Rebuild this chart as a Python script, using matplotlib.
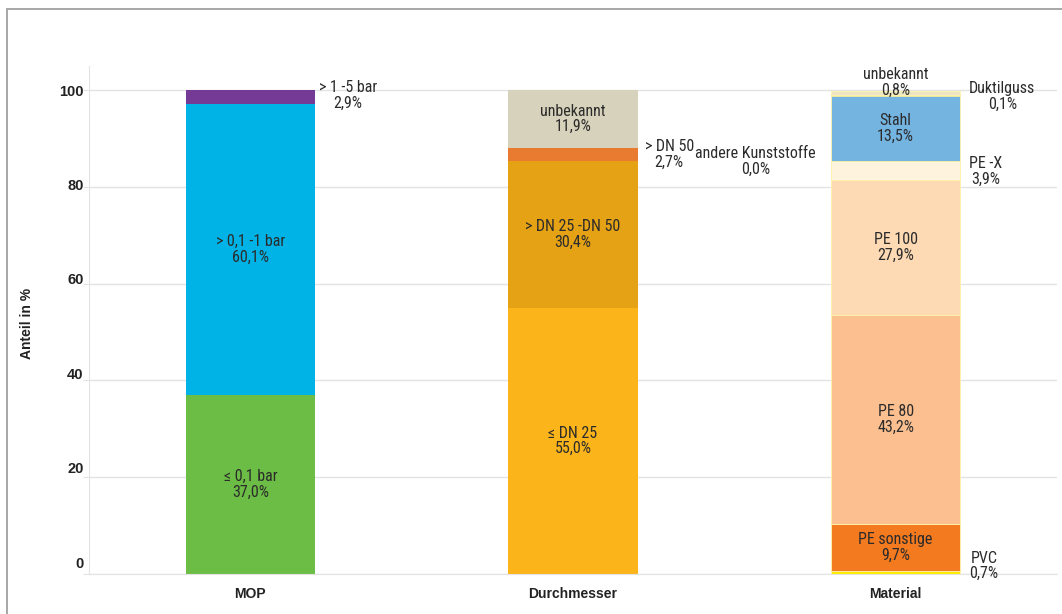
import matplotlib.pyplot as plt
from matplotlib.patches import Rectangle
from matplotlib.transforms import ScaledTranslation

# Daten
kategorien = ["MOP", "Durchmesser", "Material"]

mop_labels = ["≤ 0,1 bar", "> 0,1 -1 bar", "> 1 -5 bar"]
mop_werte = [37.0, 60.1, 2.9]

dn_labels = ["≤ DN 25", "> DN 25 -DN 50", "> DN 50", "andere Kunststoffe", "unbekannt"]
dn_werte = [55.0, 30.4, 2.7, 0.0, 11.9]

mat_labels = ["PVC", "PE sonstige", "PE 80", "PE 100", "PE -X", "Stahl", "Duktilguss", "unbekannt"]
mat_werte = [0.7, 9.7, 43.2, 27.9, 3.9, 13.5, 0.1, 0.8]

y_ticks = [0, 20, 40, 60, 80, 100]

# Farben
mop_farben = ["#6cbd45", "#00b3e7", "#743a96"]
dn_farben = ["#fbb51b", "#e5a215", "#e97b30", "#e97b30", "#d7d2bb"]
mat_farben = ["#ffec00", "#f47a20", "#fbbf90", "#fdd9b4", "#fef4de", "#74b4e1", "#2f6b80", "#ede6c4"]

plt.rcParams['font.family'] = ['Liberation Sans Narrow', 'Roboto Condensed', 'DejaVu Sans']
textfarbe = "#2b2b2b"
fett = ['Liberation Sans', 'DejaVu Sans']

fig = plt.figure(figsize=(10.62, 6.14), dpi=100)
ax = fig.add_axes([89 / 1062, 1 - 574 / 614, (1057 - 89) / 1062, (574 - 66) / 614])

breite = 0.40


def fmt(v):
    return f"{v:.1f}".replace(".", ",") + "%"


# Beschriftungen ausserhalb des Balkens: (dx in Achseneinheiten, dy in %, ha)
aussen = {
    (0, "> 1 -5 bar"): (0.012, 0.3, "left"),
    (1, "> DN 50"): (0.022, 0.0, "left"),
    (1, "andere Kunststoffe"): (0.178, -2.8, "left"),
    (2, "unbekannt"): (0.0, 2.2, "center"),
    (2, "Duktilguss"): (0.028, -0.2, "left"),
    (2, "PE -X"): (0.028, -0.3, "left"),
    (2, "PVC"): (0.028, 1.3, "left"),
}

gruppen = [(mop_labels, mop_werte, mop_farben),
           (dn_labels, dn_werte, dn_farben),
           (mat_labels, mat_werte, mat_farben)]

for i, (labels, werte, farben) in enumerate(gruppen):
    unten = 0.0
    for lab, w, f in zip(labels, werte, farben):
        if i == 2:
            ax.bar(i, w, breite, bottom=unten, color=f, edgecolor="#fff3a8", linewidth=0.6, zorder=2)
        else:
            ax.bar(i, w, breite, bottom=unten, color=f, linewidth=0, zorder=2)
        mitte = unten + w / 2
        txt = f"{lab}\n{fmt(w)}"
        if (i, lab) in aussen:
            dx, dy, ha = aussen[(i, lab)]
            x = i + breite / 2 + dx if ha == "left" else i
            ax.text(x, mitte + dy, txt, ha=ha, va="center", multialignment="center",
                    fontsize=11.5, color=textfarbe, linespacing=1.05, zorder=3)
        else:
            ax.text(i, mitte, txt, ha="center", va="center", multialignment="center",
                    fontsize=11.5, color=textfarbe, linespacing=1.05, zorder=3)
        unten += w

ax.set_xlim(-0.5, 2.5)
ax.set_ylim(0, 105)
ax.set_yticks(y_ticks)
ax.set_xticks(range(len(kategorien)))
ax.set_xticklabels(kategorien, fontweight="bold", fontsize=10, color="#222222", family=fett)
ax.tick_params(axis="x", length=0, pad=9)
ax.tick_params(axis="y", length=4, color="#e3e3e3", labelsize=10.5, labelcolor="#222222", pad=0)
for v, t in zip(y_ticks, ax.get_yticklabels()):
    t.set_fontweight("bold")
    t.set_family(fett)
    t.set_transform(t.get_transform() + ScaledTranslation(0, (100 - v) / 100 * 12 / 100, fig.dpi_scale_trans))

ax.grid(axis="y", color="#e3e3e3", linewidth=1, zorder=0)
ax.set_axisbelow(True)
for s in ["top", "right"]:
    ax.spines[s].set_visible(False)
ax.spines["left"].set_color("#e3e3e3")
ax.spines["bottom"].set_color("#e3e3e3")

fig.text(27 / 1062, 1 - 323 / 614, "Anteil in %", rotation=90, ha="center", va="center",
         fontweight="bold", fontsize=10, color="#222222", family=fett)

# Rahmen
fig.add_artist(Rectangle((7 / 1062, -0.1), 1.2, 1.1 - 9 / 614, transform=fig.transFigure,
                         fill=False, edgecolor="#a0a0a0", linewidth=1.3))

fig.savefig("out.png", dpi=100, facecolor="white")
